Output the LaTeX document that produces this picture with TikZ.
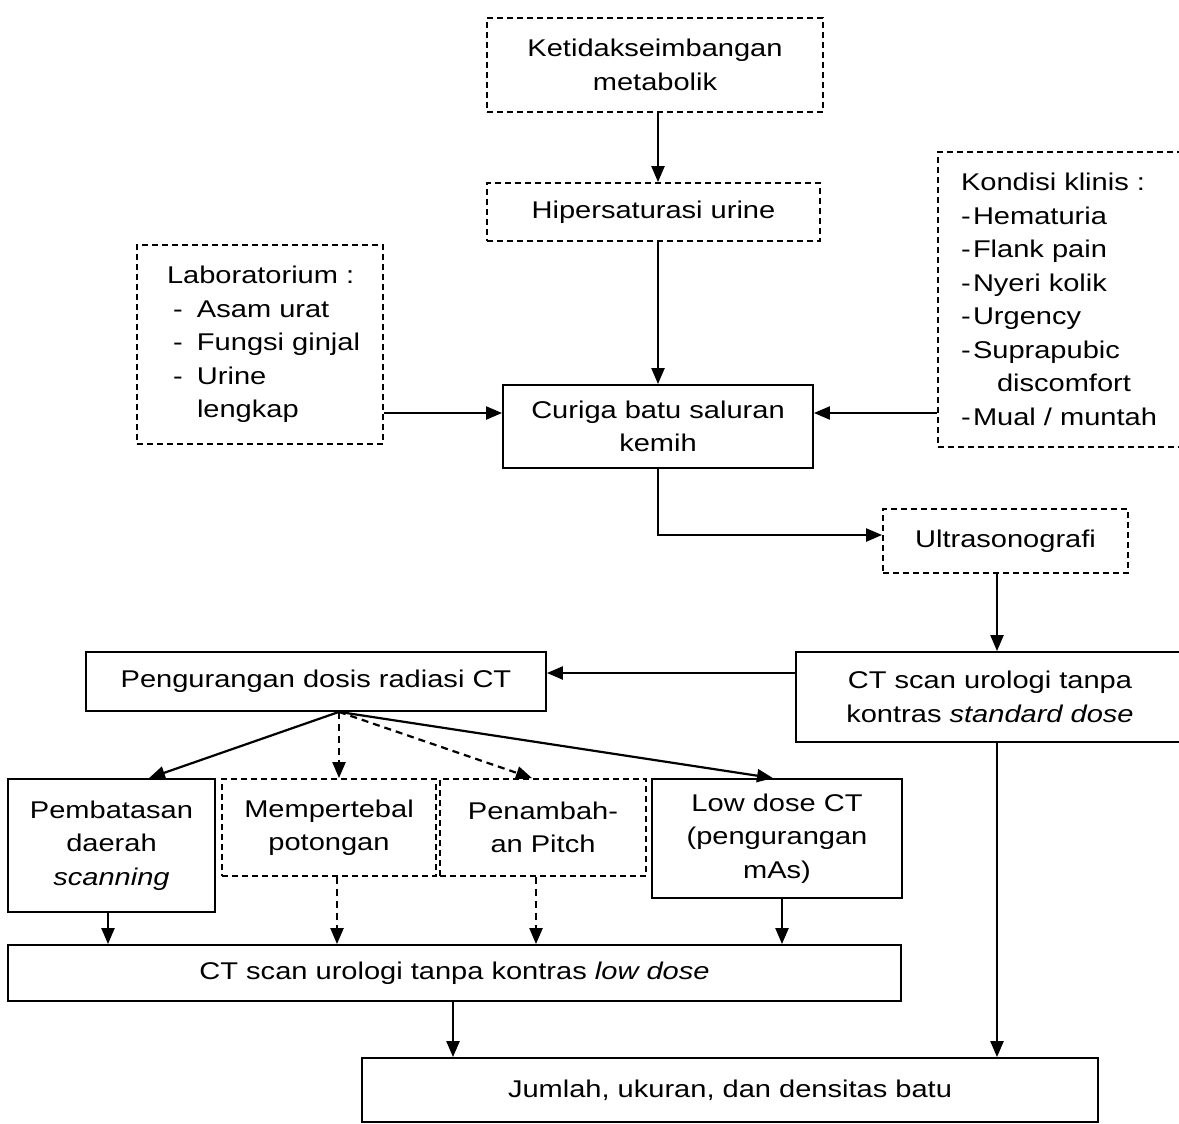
\documentclass[tikz,border=0pt]{standalone}
\usepackage{fontspec}
\setmainfont{Liberation Sans}[FakeStretch=1.2]
\usetikzlibrary{arrows.meta,calc}
\begin{document}
\begin{tikzpicture}[x=1pt,y=-1pt,
  every node/.style={font=\fontsize{24.2}{33.5}\selectfont, inner sep=0pt, align=center},
  sbox/.style={draw, line width=1.8pt, rectangle},
  dbox/.style={draw, line width=1.8pt, rectangle, dash pattern=on 6pt off 4pt},
  arr/.style={line width=2.2pt, -{Triangle[length=16pt,width=13pt]}},
  darr/.style={arr, dash pattern=on 7pt off 5pt}]
\useasboundingbox (0,0) rectangle (1179,1124);
\fill[white] (0,0) rectangle (1179,1124);

% boxes
\node[dbox, minimum width=336pt, minimum height=94pt] (ket) at (655,65) {Ketidakseimbangan\\metabolik};
\node[dbox, minimum width=333pt, minimum height=58pt] (hip) at (653.5,212) {Hipersaturasi urine};
\node[dbox, minimum width=246pt, minimum height=199pt, text width=216pt, inner xsep=15pt, align=left] (lab) at (260,344.5)
  {\hspace*{15pt}Laboratorium :\\
   \hspace*{21pt}\makebox[24pt][l]{-}Asam urat\\
   \hspace*{21pt}\makebox[24pt][l]{-}Fungsi ginjal\\
   \hspace*{21pt}\makebox[24pt][l]{-}Urine\\
   \hspace*{45pt}lengkap};
\node[dbox, minimum width=250pt, minimum height=295pt, text width=228pt, inner xsep=11pt, align=left] (kon) at (1063,299.5)
  {\hspace*{12pt}Kondisi klinis :\\
   \hspace*{12pt}\makebox[12pt][l]{-}Hematuria\\
   \hspace*{12pt}\makebox[12pt][l]{-}Flank pain\\
   \hspace*{12pt}\makebox[12pt][l]{-}Nyeri kolik\\
   \hspace*{12pt}\makebox[12pt][l]{-}Urgency\\
   \hspace*{12pt}\makebox[12pt][l]{-}Suprapubic\\
   \hspace*{48pt}discomfort\\
   \hspace*{12pt}\makebox[12pt][l]{-}Mual / muntah};
\node[sbox, minimum width=310pt, minimum height=83pt] (cur) at (658,426.5) {Curiga batu saluran\\kemih};
\node[dbox, minimum width=245pt, minimum height=64pt] (ultra) at (1005.5,541) {Ultrasonografi};
\node[sbox, minimum width=388pt, minimum height=90pt] (ctstd) at (990,697) {CT scan urologi tanpa\\kontras \textit{standard dose}};
\node[sbox, minimum width=460pt, minimum height=59pt] (peng) at (316,681.5) {Pengurangan dosis radiasi CT};
\node[sbox, minimum width=207pt, minimum height=133pt] (pemb) at (111.5,845.5) {Pembatasan\\daerah\\\textit{scanning}};
\node[dbox, minimum width=214pt, minimum height=97pt] (memp) at (329,827.5) {Mempertebal\\potongan};
\node[dbox, minimum width=206pt, minimum height=97pt] (pena) at (543,827.5) {Penambah-\\an Pitch};
\node[sbox, minimum width=250pt, minimum height=119pt] (lowd) at (777,838.5) {Low dose CT\\(pengurangan\\mAs)};
\node[sbox, minimum width=893pt, minimum height=56pt] (ctlow) at (454.5,973) {CT scan urologi tanpa kontras \textit{low dose}};
\node[sbox, minimum width=736pt, minimum height=64pt] (jum) at (730,1090) {Jumlah, ukuran, dan densitas batu};

% helper columns / rows
\coordinate (x658) at (658,0);
\coordinate (x997) at (997,0);
\coordinate (x149) at (149,0);
\coordinate (x339) at (339,0);
\coordinate (x532) at (532,0);
\coordinate (x773) at (773,0);
\coordinate (x108) at (108,0);
\coordinate (x337) at (337,0);
\coordinate (x536) at (536,0);
\coordinate (x782) at (782,0);
\coordinate (x453) at (453,0);
\coordinate (y413) at (0,413);
\coordinate (y535) at (0,535);
\coordinate (y673) at (0,673);

% connectors
\draw[arr] (ket.south -| x658) -- (hip.north -| x658);
\draw[arr] (hip.south -| x658) -- (cur.north -| x658);
\draw[arr] (lab.east |- y413) -- (cur.west |- y413);
\draw[arr] (kon.west |- y413) -- (cur.east |- y413);
\draw[arr] (cur.south -| x658) |- (ultra.west |- y535);
\draw[arr] (ultra.south -| x997) -- (ctstd.north -| x997);
\draw[arr] (ctstd.west |- y673) -- (peng.east |- y673);
\coordinate (po) at (peng.south -| x339);
\draw[arr] (po) -- (pemb.north -| x149);
\draw[darr] (po) -- (memp.north -| x339);
\draw[darr] (po) -- (pena.north -| x532);
\draw[arr] (po) -- (lowd.north -| x773);
\draw[arr] (pemb.south -| x108) -- (ctlow.north -| x108);
\draw[darr] (memp.south -| x337) -- (ctlow.north -| x337);
\draw[darr] (pena.south -| x536) -- (ctlow.north -| x536);
\draw[arr] (lowd.south -| x782) -- (ctlow.north -| x782);
\draw[arr] (ctlow.south -| x453) -- (jum.north -| x453);
\draw[arr] (ctstd.south -| x997) -- (jum.north -| x997);
\end{tikzpicture}
\end{document}
